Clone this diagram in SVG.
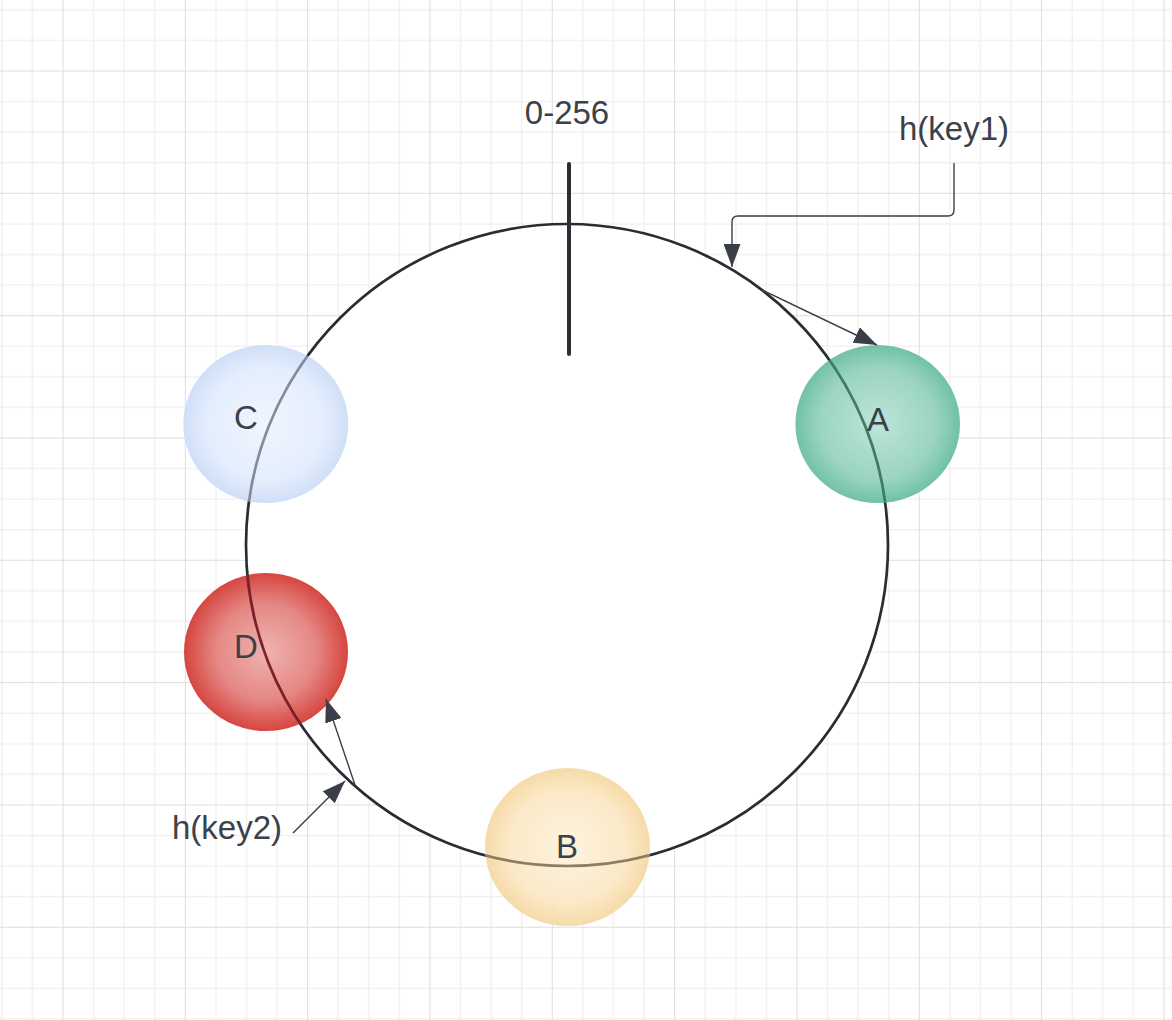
<svg xmlns="http://www.w3.org/2000/svg" width="1172" height="1020" viewBox="0 0 1172 1020">
<style>
.lbl{font-family:"Liberation Sans",Arial,sans-serif;font-size:33px;fill:#3b4149;text-anchor:middle}
.conn{fill:none;stroke:#3a3f47;stroke-width:1.4}
.sph{fill-opacity:0.9}
</style>
<defs>
<pattern id="grid" x="62.5" y="70.5" width="122.32" height="122.32" patternUnits="userSpaceOnUse">
<path d="M31.08 0V122.32M61.66 0V122.32M92.24 0V122.32M0 31.08H122.32M0 61.66H122.32M0 92.24H122.32" stroke="#ececec" stroke-width="1" fill="none"/>
<path d="M0.5 0V122.32M0 0.5H122.32" stroke="#dddddd" stroke-width="1" fill="none"/>
</pattern>
<marker id="arr" markerUnits="userSpaceOnUse" markerWidth="23" markerHeight="17" refX="23" refY="8.5" orient="auto">
<path d="M0 0L23 8.5L0 17z" fill="#3a3f47"/>
</marker>
<radialGradient id="gA" cx="50%" cy="50%" r="50%">
<stop offset="0" stop-color="#b6e2d4"/><stop offset="0.7" stop-color="#90d0b9"/><stop offset="1" stop-color="#62bb9b"/>
</radialGradient>
<radialGradient id="gB" cx="50%" cy="50%" r="50%">
<stop offset="0" stop-color="#fdf2dc"/><stop offset="0.7" stop-color="#fbe7c2"/><stop offset="1" stop-color="#f5d79f"/>
</radialGradient>
<radialGradient id="gC" cx="50%" cy="50%" r="50%">
<stop offset="0" stop-color="#eef4ff"/><stop offset="0.7" stop-color="#e2ecfd"/><stop offset="1" stop-color="#cbdcf7"/>
</radialGradient>
<radialGradient id="gD" cx="50%" cy="50%" r="50%">
<stop offset="0" stop-color="#eeaaa8"/><stop offset="0.6" stop-color="#e27c78"/><stop offset="1" stop-color="#d2322b"/>
</radialGradient>
<clipPath id="cA"><ellipse cx="877.7" cy="424" rx="82.3" ry="79"/></clipPath>
<clipPath id="cB"><ellipse cx="567.5" cy="847" rx="82.5" ry="79"/></clipPath>
<clipPath id="cC"><ellipse cx="265.8" cy="424" rx="82.5" ry="79"/></clipPath>
<clipPath id="cD"><ellipse cx="266" cy="652" rx="82" ry="79"/></clipPath>
<circle id="ringShape" cx="567" cy="545" r="321" fill="none" stroke-width="2.7"/>
</defs>
<rect width="1172" height="1020" fill="#ffffff"/>
<rect width="1172" height="1020" fill="url(#grid)"/>

<g id="ring">
<circle cx="567" cy="545" r="321" fill="#ffffff" stroke="#2a2c33" stroke-width="2.7"/>
<line x1="569" y1="164" x2="569" y2="354" stroke="#2b2e35" stroke-width="4" stroke-linecap="round"/>
</g>

<g id="label-range"><text class="lbl" x="567" y="124">0-256</text></g>

<g id="node-A">
<ellipse class="sph" cx="877.7" cy="424" rx="82.3" ry="79" fill="url(#gA)"/>
<use href="#ringShape" stroke="#3e7c68" clip-path="url(#cA)"/>
<text class="lbl" x="878" y="431">A</text>
</g>
<g id="node-B">
<ellipse class="sph" cx="567.5" cy="847" rx="82.5" ry="79" fill="url(#gB)"/>
<use href="#ringShape" stroke="#8b7c64" clip-path="url(#cB)"/>
<text class="lbl" x="567" y="858">B</text>
</g>
<g id="node-C">
<ellipse class="sph" cx="265.8" cy="424" rx="82.5" ry="79" fill="url(#gC)"/>
<use href="#ringShape" stroke="#868c97" clip-path="url(#cC)"/>
<text class="lbl" x="246" y="429">C</text>
</g>
<g id="node-D">
<ellipse class="sph" cx="266" cy="652" rx="82" ry="79" fill="url(#gD)"/>
<use href="#ringShape" stroke="#7a2228" clip-path="url(#cD)"/>
<text class="lbl" x="246" y="658">D</text>
</g>

<g id="label-key1"><text class="lbl" x="954" y="140">h(key1)</text></g>
<g id="label-key2"><text class="lbl" x="227" y="839">h(key2)</text></g>

<g id="connectors">
<path class="conn" d="M954 163V210Q954 216 948 216H738Q732 216 732 222V267" marker-end="url(#arr)"/>
<path class="conn" d="M762 290L877 345" marker-end="url(#arr)"/>
<path class="conn" d="M293 833L345 781" marker-end="url(#arr)"/>
<path class="conn" d="M355 785L326 699" marker-end="url(#arr)"/>
</g>
</svg>
